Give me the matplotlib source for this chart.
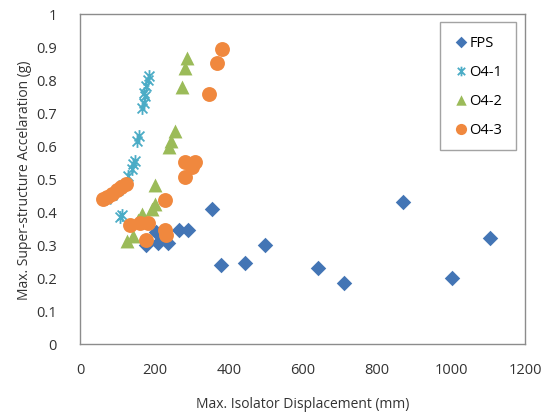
import matplotlib
matplotlib.use("Agg")
import matplotlib.pyplot as plt
from matplotlib.path import Path

# Max. isolator displacement (mm) and max. super-structure acceleration (g)
fps_x = [178, 205, 210, 235, 266, 289, 355, 378, 445, 498, 640, 711, 869, 1003, 1105]
fps_y = [0.30, 0.34, 0.305, 0.305, 0.345, 0.345, 0.41, 0.24, 0.245, 0.30, 0.23, 0.185, 0.43, 0.20, 0.32]

o41_x = [70, 85, 100, 115, 106, 112, 129, 138, 142, 147, 152, 158, 165, 170, 175, 172, 178, 182, 185]
o41_y = [0.44, 0.45, 0.465, 0.48, 0.385, 0.39, 0.51, 0.53, 0.545, 0.555, 0.616, 0.631, 0.715, 0.73, 0.75, 0.76, 0.78, 0.80, 0.81]

o42_x = [125, 142, 155, 165, 192, 200, 201, 239, 245, 255, 273, 282, 286]
o42_y = [0.313, 0.328, 0.374, 0.395, 0.41, 0.424, 0.48, 0.595, 0.615, 0.645, 0.778, 0.835, 0.865]

o43_x = [60, 72, 85, 98, 110, 122, 133, 160, 183, 177, 228, 232, 228, 282, 282, 300, 308, 347, 369, 381]
o43_y = [0.44, 0.445, 0.455, 0.465, 0.475, 0.485, 0.36, 0.365, 0.365, 0.315, 0.345, 0.33, 0.437, 0.505, 0.55, 0.535, 0.55, 0.758, 0.851, 0.894]

series_names = ["FPS", "O4-1", "O4-2", "O4-3"]
x_ticks = [0, 200, 400, 600, 800, 1000, 1200]
y_ticks = [0, 0.1, 0.2, 0.3, 0.4, 0.5, 0.6, 0.7, 0.8, 0.9, 1]

plt.rcParams['font.family'] = ['Open Sans', 'DejaVu Sans']

# asterisk: an X crossed by a vertical stroke
star = Path([(-1, -1), (1, 1), (-1, 1), (1, -1), (0, -1.3), (0, 1.3)],
            [Path.MOVETO, Path.LINETO, Path.MOVETO, Path.LINETO, Path.MOVETO, Path.LINETO])

fig = plt.figure(figsize=(5.49, 4.14), dpi=100)
ax = fig.add_axes([0.1466, 0.1667, 0.8104, 0.7978])

ax.scatter(fps_x, fps_y, marker='D', s=62, color='#4375B5', linewidths=0, label=series_names[0], zorder=2)
ax.scatter(o41_x, o41_y, marker=star, s=85, color='#4BACC6', linewidths=1.3, label=series_names[1], zorder=3)
ax.scatter(o42_x, o42_y, marker='^', s=100, color='#9BBB59', linewidths=0, label=series_names[2], zorder=4)
ax.scatter(o43_x, o43_y, marker='o', s=115, color='#F0883E', linewidths=0, label=series_names[3], zorder=5)

ax.set_xlim(0, 1200)
ax.set_ylim(0, 1)
ax.set_xticks(x_ticks)
ax.set_xticklabels([str(v) for v in x_ticks])
ax.set_yticks(y_ticks)
ax.set_yticklabels(['0', '0.1', '0.2', '0.3', '0.4', '0.5', '0.6', '0.7', '0.8', '0.9', '1'])
ax.tick_params(length=0, labelsize=10.5, colors='#333333')
ax.tick_params(axis='x', pad=13)
ax.tick_params(axis='y', pad=17)

for sp in ax.spines.values():
    sp.set_color('#8C8C8C')
    sp.set_linewidth(1.0)

ax.set_xlabel('Max. Isolator Displacement (mm)', fontsize=10, color='#333333', labelpad=14)
ax.set_ylabel('Max. Super-structure Accelaration (g)', fontsize=10, color='#333333', labelpad=3)

leg = ax.legend(loc='upper left', bbox_to_anchor=(0.809, 0.975), borderaxespad=0,
                frameon=True, fancybox=False, fontsize=10.5, handletextpad=0.1,
                labelspacing=0.95, borderpad=0.9, handlelength=1.0,
                markerscale=0.75)
leg.get_frame().set_edgecolor('#8C8C8C')
leg.get_frame().set_linewidth(1.0)

fig.savefig('out.png', dpi=100, facecolor='white')
